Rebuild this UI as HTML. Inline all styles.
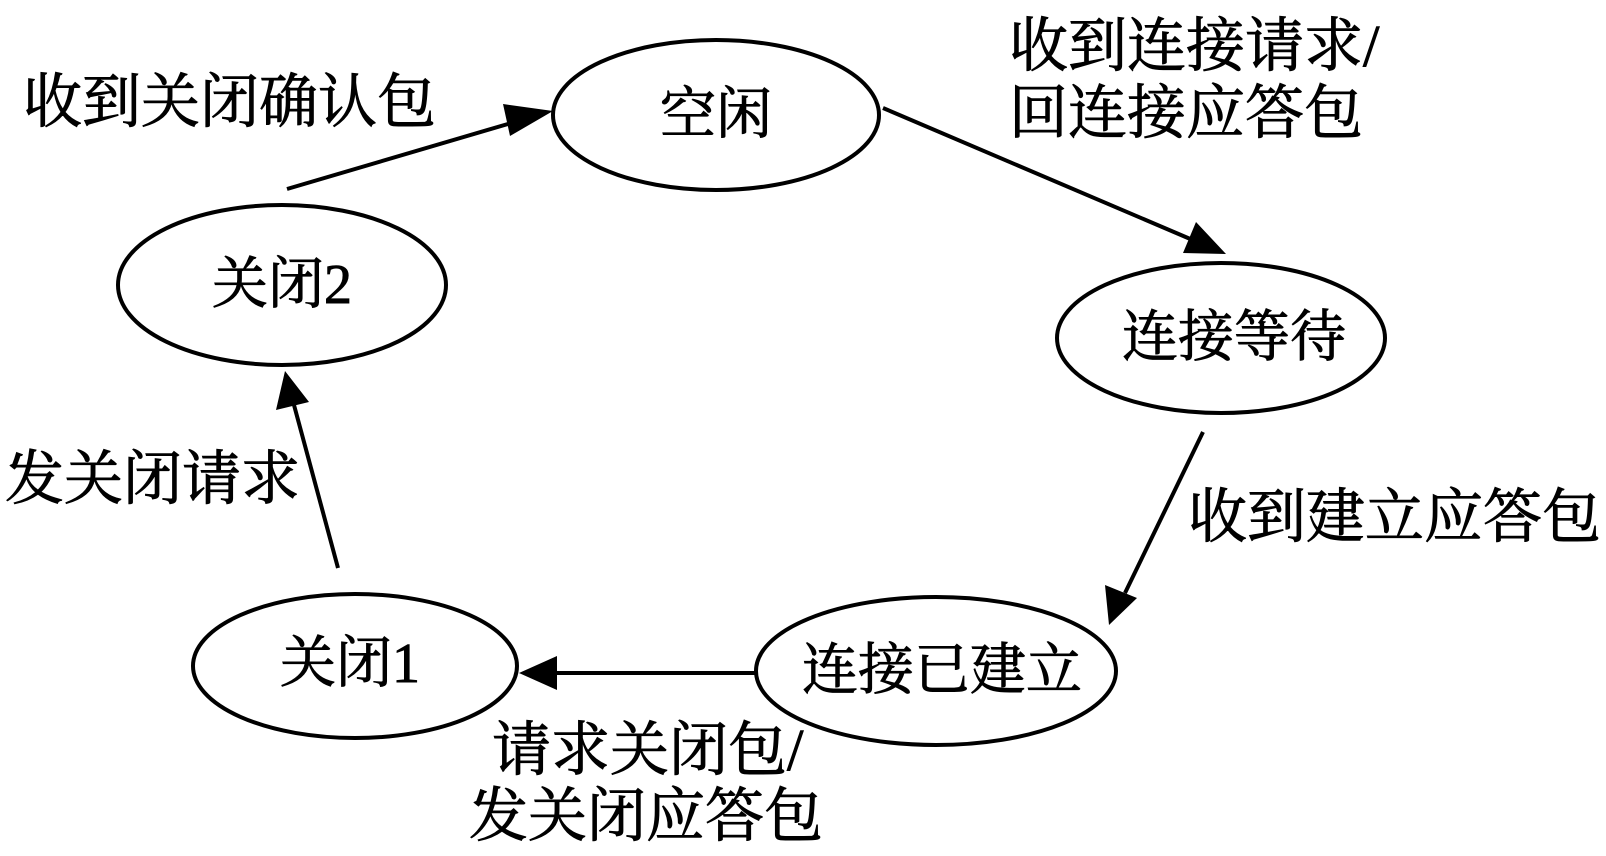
<!DOCTYPE html>
<html><head><meta charset="utf-8"><style>
html,body{margin:0;padding:0;background:#fff;}
svg{display:block;}
text{font-family:"Liberation Serif","Noto Serif CJK SC",serif;fill:#000;stroke:#000;stroke-width:0.9px;}
</style></head><body>
<svg width="1606" height="856" viewBox="0 0 1606 856" xmlns="http://www.w3.org/2000/svg">
<g fill="none" stroke="#000" stroke-width="4">
<ellipse cx="716" cy="115" rx="163" ry="75"/>
<ellipse cx="282" cy="285" rx="164" ry="80"/>
<ellipse cx="1221" cy="338" rx="164" ry="75"/>
<ellipse cx="936" cy="671" rx="180" ry="74"/>
<ellipse cx="355" cy="666" rx="162" ry="72"/>
</g>
<g stroke="#000" stroke-width="4" fill="none">
<line x1="287" y1="189" x2="518" y2="121"/>
<line x1="883" y1="108" x2="1195" y2="241"/>
<line x1="1203" y1="432" x2="1125" y2="593"/>
<line x1="756" y1="673" x2="555" y2="673"/>
<line x1="338" y1="568" x2="294" y2="405"/>
</g>
<g fill="#000">
<polygon points="553,111 510,136 503,104"/>
<polygon points="1226,254 1183,253 1196,222"/>
<polygon points="1109,625 1105,585 1137,598"/>
<polygon points="519,673 557,656 557,690"/>
<polygon points="285,371 276,410 309,402"/>
</g>
<g font-size="56" text-anchor="middle" dominant-baseline="central">
<text x="716" y="115">空闲</text>
<text x="282" y="285">关闭2</text>
<text x="1234" y="338">连接等待</text>
<text x="942" y="671">连接已建立</text>
<text x="350" y="664">关闭1</text>
</g>
<g font-size="59" dominant-baseline="central">
<text x="23" y="102">收到关闭确认包</text>
<text x="1009" y="46">收到连接请求/</text>
<text x="1009" y="113">回连接应答包</text>
<text x="1188" y="517">收到建立应答包</text>
<text x="492" y="750">请求关闭包/</text>
<text x="469" y="816">发关闭应答包</text>
<text x="5" y="479">发关闭请求</text>
</g>
</svg>
</body></html>
